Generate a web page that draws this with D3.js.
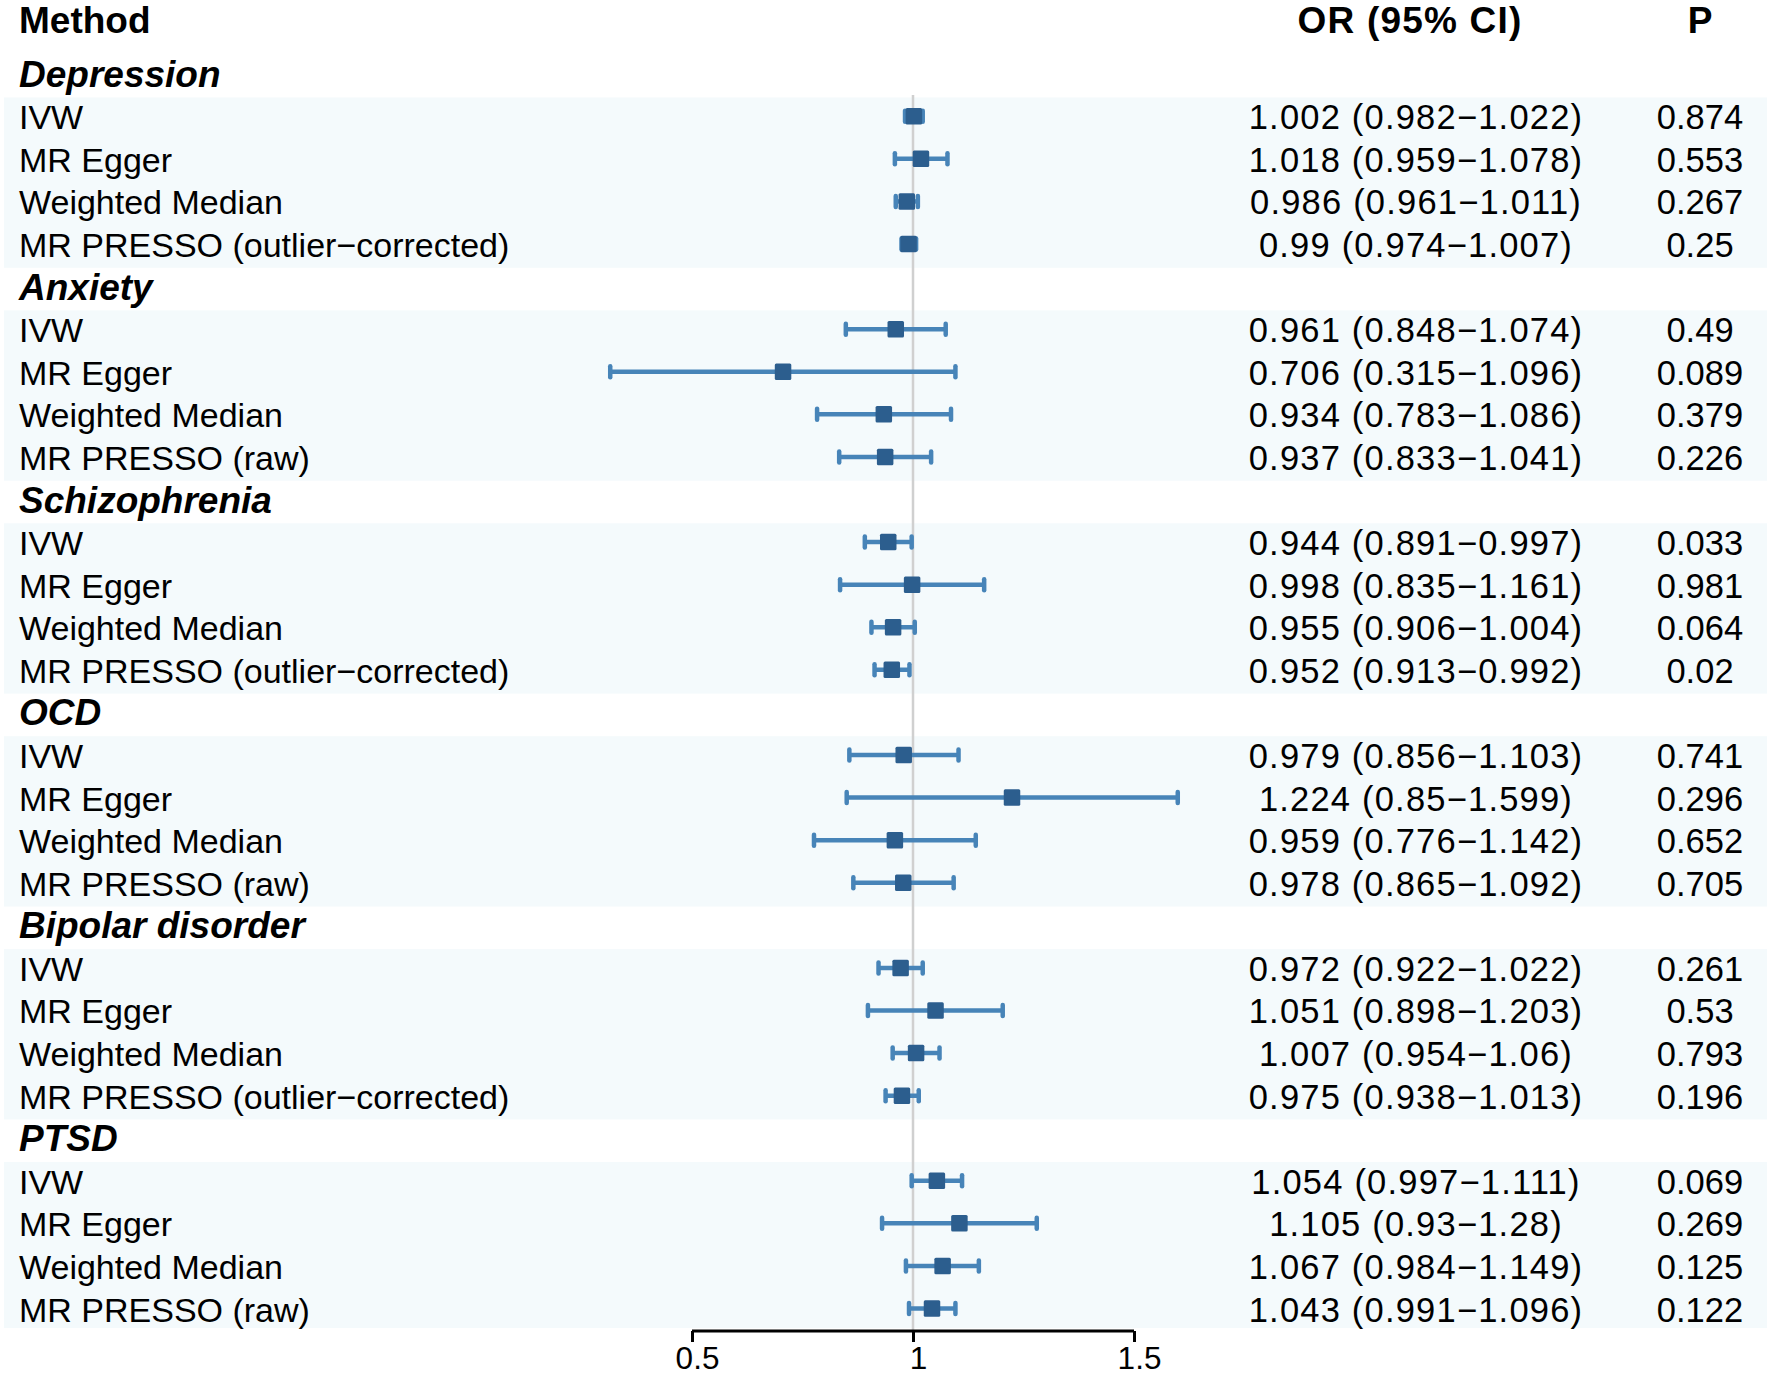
<!DOCTYPE html>
<html>
<head>
<meta charset="utf-8">
<script src="https://cdn.jsdelivr.net/npm/d3@7"></script>
<style>
  html, body { margin: 0; padding: 0; background: #ffffff; }
  svg { display: block; }
  text { font-family: "Liberation Sans", Arial, Helvetica, sans-serif; fill: #000; }
</style>
</head>
<body>
<svg id="chart" width="1772" height="1377"></svg>
<script>
// ---- data ----
const groups = ["Depression", "Anxiety", "Schizophrenia", "OCD", "Bipolar disorder", "PTSD"];
const methods = [
  ["IVW", "MR Egger", "Weighted Median", "MR PRESSO (outlier\u2212corrected)"],
  ["IVW", "MR Egger", "Weighted Median", "MR PRESSO (raw)"],
  ["IVW", "MR Egger", "Weighted Median", "MR PRESSO (outlier\u2212corrected)"],
  ["IVW", "MR Egger", "Weighted Median", "MR PRESSO (raw)"],
  ["IVW", "MR Egger", "Weighted Median", "MR PRESSO (outlier\u2212corrected)"],
  ["IVW", "MR Egger", "Weighted Median", "MR PRESSO (raw)"]
];
const orValues = [
  [1.002, 1.018, 0.986, 0.99],
  [0.961, 0.706, 0.934, 0.937],
  [0.944, 0.998, 0.955, 0.952],
  [0.979, 1.224, 0.959, 0.978],
  [0.972, 1.051, 1.007, 0.975],
  [1.054, 1.105, 1.067, 1.043]
];
const ciLower = [
  [0.982, 0.959, 0.961, 0.974],
  [0.848, 0.315, 0.783, 0.833],
  [0.891, 0.835, 0.906, 0.913],
  [0.856, 0.85, 0.776, 0.865],
  [0.922, 0.898, 0.954, 0.938],
  [0.997, 0.93, 0.984, 0.991]
];
const ciUpper = [
  [1.022, 1.078, 1.011, 1.007],
  [1.074, 1.096, 1.086, 1.041],
  [0.997, 1.161, 1.004, 0.992],
  [1.103, 1.599, 1.142, 1.092],
  [1.022, 1.203, 1.06, 1.013],
  [1.111, 1.28, 1.149, 1.096]
];
const pValues = [
  [0.874, 0.553, 0.267, 0.25],
  [0.49, 0.089, 0.379, 0.226],
  [0.033, 0.981, 0.064, 0.02],
  [0.741, 0.296, 0.652, 0.705],
  [0.261, 0.53, 0.793, 0.196],
  [0.069, 0.269, 0.125, 0.122]
];
const xTicks = [0.5, 1, 1.5];
const headers = ["Method", "OR (95% CI)", "P"];

// ---- build rows ----
const rows = [];
groups.forEach((g, gi) => {
  rows.push({type: "group", label: g});
  methods[gi].forEach((m, mi) => {
    rows.push({
      type: "data", label: m,
      or: orValues[gi][mi], lo: ciLower[gi][mi], hi: ciUpper[gi][mi], p: pValues[gi][mi]
    });
  });
});

// ---- layout ----
const svg = d3.select("#chart");
const W = 1772, H = 1377;
const fontSize = 34.5;
const methodSize = 34;
const boldSize = 37;
const bandTop = 97.5;
const rowH = 42.58;
const x = d3.scaleLinear().domain([0.5, 1.5]).range([692, 1134]);
const rowTopY = k => bandTop + (k - 1) * rowH;
const rowC = k => rowTopY(k) + rowH / 2;
const axisY = 1331;
const orColX = 1416;
const orHeadX = 1410;
const pColX = 1700;
const textX = 19;

svg.append("rect").attr("width", W).attr("height", H).attr("fill", "#ffffff");

// shaded bands for data rows
const bands = svg.append("g");
groups.forEach((g, gi) => {
  const k0 = gi * 5 + 1;
  const top = rowTopY(k0);
  bands.append("rect")
    .attr("x", 4).attr("y", top)
    .attr("width", 1767 - 4).attr("height", Math.min(rowH * 4, axisY - 3 - top))
    .attr("fill", "#f4fafc");
});

// headers
svg.append("text").attr("x", textX).attr("y", 33)
  .attr("font-size", boldSize).attr("font-weight", "bold").text(headers[0]);
svg.append("text").attr("x", orHeadX).attr("y", 33).attr("text-anchor", "middle")
  .attr("font-size", boldSize).attr("font-weight", "bold").attr("letter-spacing", 1.2).text(headers[1]);
svg.append("text").attr("x", pColX).attr("y", 33).attr("text-anchor", "middle")
  .attr("font-size", boldSize).attr("font-weight", "bold").text(headers[2]);

// reference line at 1
svg.append("line")
  .attr("x1", x(1)).attr("x2", x(1))
  .attr("y1", 95).attr("y2", axisY)
  .attr("stroke", "#d0d0d0").attr("stroke-width", 2.5);

// row texts
const rowG = svg.append("g");
rows.forEach((r, k) => {
  const by = rowC(k) + 10.5;
  if (r.type === "group") {
    rowG.append("text").attr("x", textX).attr("y", by)
      .attr("font-size", boldSize).attr("font-weight", "bold").attr("font-style", "italic")
      .text(r.label);
  } else {
    rowG.append("text").attr("x", textX).attr("y", by)
      .attr("font-size", methodSize).text(r.label);
    rowG.append("text").attr("x", orColX).attr("y", by).attr("text-anchor", "middle")
      .attr("font-size", fontSize).attr("letter-spacing", 1.2)
      .text(`${r.or} (${r.lo}\u2212${r.hi})`);
    rowG.append("text").attr("x", pColX).attr("y", by).attr("text-anchor", "middle")
      .attr("font-size", fontSize).text(String(r.p));
  }
});

// marks
const lineColor = "#4784b8";
const boxColor = "#2c5e8e";
const markG = svg.append("g");
const dataRows = rows.map((r, k) => Object.assign({k}, r)).filter(r => r.type === "data");
const my = r => rowC(r.k) - 2.5;

markG.selectAll("line.ci").data(dataRows).join("line").attr("class", "ci")
  .attr("x1", d => x(d.lo)).attr("x2", d => x(d.hi))
  .attr("y1", my).attr("y2", my)
  .attr("stroke", lineColor).attr("stroke-width", 4.5);
markG.selectAll("line.capL").data(dataRows).join("line").attr("class", "capL")
  .attr("x1", d => x(d.lo)).attr("x2", d => x(d.lo))
  .attr("y1", d => my(d) - 5.5).attr("y2", d => my(d) + 5.5)
  .attr("stroke", lineColor).attr("stroke-width", 4.5).attr("stroke-linecap", "round");
markG.selectAll("line.capR").data(dataRows).join("line").attr("class", "capR")
  .attr("x1", d => x(d.hi)).attr("x2", d => x(d.hi))
  .attr("y1", d => my(d) - 5.5).attr("y2", d => my(d) + 5.5)
  .attr("stroke", lineColor).attr("stroke-width", 4.5).attr("stroke-linecap", "round");
const sq = 16.5;
markG.selectAll("rect.pt").data(dataRows).join("rect").attr("class", "pt")
  .attr("x", d => x(d.or) - sq / 2).attr("y", d => my(d) - sq / 2)
  .attr("width", sq).attr("height", sq).attr("rx", 1.5)
  .attr("fill", boxColor);

// axis
const axis = d3.axisBottom(x).tickValues(xTicks).tickFormat(d => String(d)).tickSize(11).tickPadding(5);
const ax = svg.append("g").attr("transform", `translate(0,${axisY})`).call(axis);
ax.select(".domain").attr("d", `M${x(0.5)},0H${x(1.5)}`).attr("stroke", "#000").attr("stroke-width", 3);
ax.selectAll(".tick line").attr("stroke", "#000").attr("stroke-width", 3);
ax.selectAll(".tick text").attr("font-size", 31.5).attr("fill", "#000").attr("dx", 5)
  .attr("font-family", "'Liberation Sans', Arial, sans-serif");
</script>
</body>
</html>
